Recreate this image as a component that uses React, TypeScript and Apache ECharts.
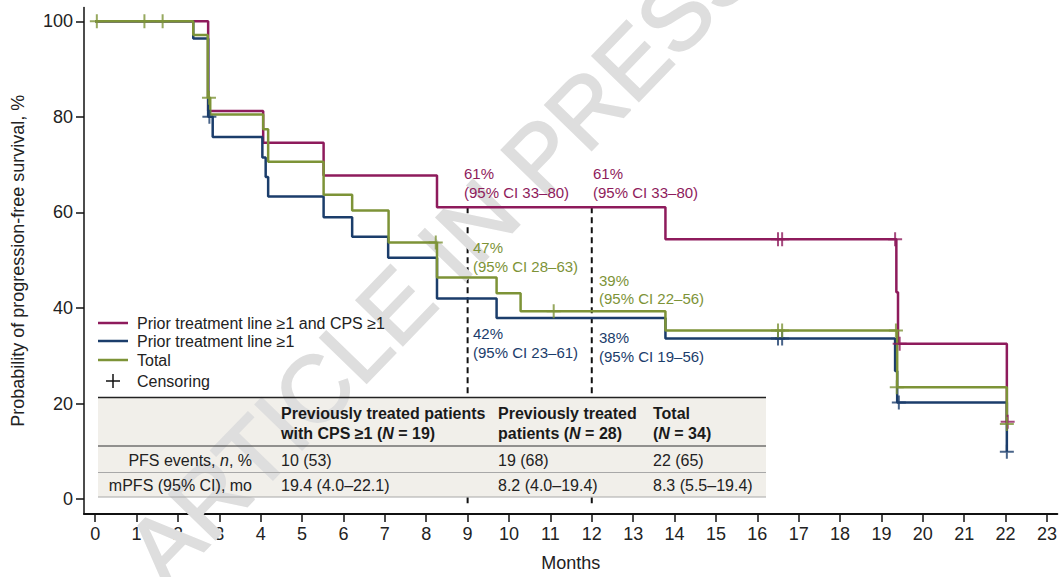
import React, { useEffect, useRef } from "react";
import * as echarts from "echarts";

// ---------- data ----------
const monthTicks = [0, 1, 2, 3, 4, 5, 6, 7, 8, 9, 10, 11, 12, 13, 14, 15, 16, 17, 18, 19, 20, 21, 22, 23];
const survivalTicks = [0, 20, 40, 60, 80, 100];

const seriesNames = ["Prior treatment line ≥1 and CPS ≥1", "Prior treatment line ≥1", "Total"];

// Kaplan–Meier steps: [month, survival % after event]
const cpsCurve: [number, number][] = [
  [0, 100], [2.73, 81.2], [4.06, 74.6], [5.52, 67.7], [8.26, 61.1], [13.78, 54.4],
  [19.36, 43.3], [19.4, 32.5], [22.03, 16.2],
];
const priorCurve: [number, number][] = [
  [0, 100], [2.37, 96.4], [2.73, 80.0], [2.84, 75.8], [4.04, 71.5], [4.12, 67.4], [4.18, 63.3],
  [5.52, 59.0], [6.21, 54.9], [7.08, 50.5], [8.26, 42.0], [9.7, 37.9], [13.78, 33.6],
  [19.33, 26.8], [19.38, 20.2], [22.03, 9.9],
];
const totalCurve: [number, number][] = [
  [0, 100], [2.37, 97.1], [2.72, 84.0], [2.78, 80.5], [4.06, 77.4], [4.18, 70.6], [5.52, 63.7],
  [6.21, 60.4], [7.09, 53.7], [8.26, 46.4], [9.7, 43.1], [10.28, 39.3], [13.78, 35.3],
  [19.38, 23.4], [22.03, 15.7],
];

// censoring marks
const cpsCensor: [number, number][] = [[16.5, 54.4], [16.6, 54.4], [19.33, 54.4], [19.44, 32.5], [22.05, 16.2]];
const priorCensor: [number, number][] = [[2.76, 80.0], [16.5, 33.6], [16.6, 33.6], [19.42, 20.2], [22.03, 9.9]];
const totalCensor: [number, number][] = [
  [0.04, 100], [1.19, 100], [1.63, 100], [2.75, 84.0], [8.23, 53.7], [11.08, 39.3],
  [16.5, 35.3], [16.6, 35.3], [19.35, 35.3], [19.37, 23.4], [22.03, 15.7],
];

// landmark lines
const landmarkMonths = [9, 12];
const landmarkTop = 61.1;

// annotations
const cpsLabels = ["61%", "(95% CI 33–80)", "61%", "(95% CI 33–80)"];
const totalLabels = ["47%", "(95% CI 28–63)", "39%", "(95% CI 22–56)"];
const priorLabels = ["42%", "(95% CI 23–61)", "38%", "(95% CI 19–56)"];

// table
const tableHeader1 = ["Previously treated patients", "Previously treated", "Total"];
const tableHeader2 = ["with CPS ≥1 ({i|N} = 19)", "patients ({i|N} = 28)", "({i|N} = 34)"];
const pfsEvents = ["10 (53)", "19 (68)", "22 (65)"];
const mpfs = ["19.4 (4.0–22.1)", "8.2 (4.0–19.4)", "8.3 (5.5–19.4)"];

// ---------- styles ----------
const MAGENTA = "#8E1B5C";
const NAVY = "#1B3D6B";
const GREEN = "#7D9337";
const FONT = "'Liberation Sans', Arial, Helvetica, sans-serif";
const PLUS = "path://M6,0H8V6H14V8H8V14H6V8H0V6H6Z";

export default function App() {
  const ref = useRef<HTMLDivElement>(null);

  useEffect(() => {
    if (!ref.current) return;
    const chart = echarts.init(ref.current, undefined, { renderer: "svg" });

    const stepSeries = (name: string, data: [number, number][], color: string) => ({
      name,
      type: "line",
      step: "end",
      data,
      symbol: "none",
      showSymbol: false,
      lineStyle: { color, width: 2.5 },
      itemStyle: { color },
      z: 5,
    });
    const censorSeries = (data: [number, number][], color: string) => ({
      type: "scatter",
      data,
      symbol: PLUS,
      symbolSize: 14,
      itemStyle: { color },
      z: 6,
    });
    const dashSeries = (m: number) => ({
      type: "line",
      data: [[m, landmarkTop], [m, -1]],
      symbol: "none",
      lineStyle: { color: "#111", width: 2, type: [6, 4] },
      z: 1,
    });

    const txt = (x: number, y: number, text: string, fill: string, size = 15, extra: any = {}) => ({
      type: "text",
      x,
      y,
      z: 7,
      style: {
        text,
        fill,
        fontSize: size,
        fontFamily: FONT,
        fontWeight: extra.bold ? "bold" : "normal",
        align: extra.align || "left",
        verticalAlign: "middle",
        rich: extra.rich,
      },
    });
    const ln = (x1: number, y1: number, x2: number, y2: number, stroke: string, w: number, z = 7) => ({
      type: "line",
      z,
      shape: { x1, y1, x2, y2 },
      style: { stroke, lineWidth: w },
    });

    const colX = [281, 498, 653];
    const richBold = { i: { fontStyle: "italic", fontWeight: "bold", fontSize: 16, fontFamily: FONT, fill: "#1a1a1a" } };
    const richNorm = { i: { fontStyle: "italic", fontWeight: "normal", fontSize: 16, fontFamily: FONT, fill: "#222" } };

    const graphics: any[] = [
      // watermark
      {
        type: "text",
        x: 442,
        y: 258,
        rotation: (46 * Math.PI) / 180,
        z: 4,
        silent: true,
        style: {
          text: "ARTICLE IN PRESS",
          fill: "#DEDEDE",
          stroke: "#DEDEDE",
          lineWidth: 2,
          fontSize: 94,
          fontFamily: FONT,
          fontWeight: "normal",
          align: "center",
          verticalAlign: "middle",
        },
      },
      // legend
      ln(98, 323, 128, 323, MAGENTA, 2.5),
      ln(98, 341, 128, 341, NAVY, 2.5),
      ln(98, 360, 128, 360, GREEN, 2.5),
      ln(106, 381, 120, 381, "#111", 1.5),
      ln(113, 374, 113, 388, "#111", 1.5),
      txt(137, 323, seriesNames[0], "#222", 16),
      txt(137, 341, seriesNames[1], "#222", 16),
      txt(137, 360, seriesNames[2], "#222", 16),
      txt(137, 381, "Censoring", "#222", 16),
      // annotations
      txt(464, 173, cpsLabels[0], MAGENTA),
      txt(464, 192, cpsLabels[1], MAGENTA),
      txt(593, 173, cpsLabels[2], MAGENTA),
      txt(593, 192, cpsLabels[3], MAGENTA),
      txt(473, 247, totalLabels[0], GREEN),
      txt(473, 266, totalLabels[1], GREEN),
      txt(599, 280, totalLabels[2], GREEN),
      txt(599, 298, totalLabels[3], GREEN),
      txt(473, 333, priorLabels[0], NAVY),
      txt(473, 352, priorLabels[1], NAVY),
      txt(599, 337, priorLabels[2], NAVY),
      txt(599, 356, priorLabels[3], NAVY),
      // table
      { type: "rect", z: 3, shape: { x: 98, y: 397, width: 668, height: 100 }, style: { fill: "#F1EFEA" } },
      ln(98, 397.5, 766, 397.5, "#222", 1.5),
      ln(98, 446, 766, 446, "#333", 1.2),
      ln(98, 472.5, 766, 472.5, "#A8A8A8", 1),
      ln(98, 497, 766, 497, "#A8A8A8", 1),
      txt(252, 460, "PFS events, {i|n}, %", "#222", 16, { align: "right", rich: richNorm }),
      txt(252, 485, "mPFS (95% CI), mo", "#222", 16, { align: "right" }),
    ];
    colX.forEach((x, i) => {
      graphics.push(txt(x, 413, tableHeader1[i], "#1a1a1a", 16, { bold: true }));
      graphics.push(txt(x, 433, tableHeader2[i], "#1a1a1a", 16, { bold: true, rich: richBold }));
      graphics.push(txt(x, 460, pfsEvents[i], "#222", 16));
      graphics.push(txt(x, 485, mpfs[i], "#222", 16));
    });

    chart.setOption({
      animation: false,
      backgroundColor: "#fff",
      textStyle: { fontFamily: FONT },
      grid: { left: 84, right: 0, top: 7.4, bottom: 60, containLabel: false },
      xAxis: {
        type: "value",
        min: -0.27,
        max: 23.25,
        name: "Months",
        nameLocation: "middle",
        nameGap: 40,
        nameTextStyle: { fontSize: 18, color: "#222", fontFamily: FONT },
        axisLine: { show: true, onZero: false, lineStyle: { color: "#111", width: 2 } },
        axisTick: { show: true, customValues: monthTicks, length: 8, lineStyle: { color: "#111", width: 1.5 } },
        axisLabel: { customValues: monthTicks, fontSize: 18, color: "#222", margin: 11, fontFamily: FONT },
        splitLine: { show: false },
      },
      yAxis: {
        type: "value",
        min: -3.12,
        max: 102.9,
        name: "Probability of progression-free survival, %",
        nameLocation: "middle",
        nameGap: 57,
        nameTextStyle: { fontSize: 18, color: "#222", fontFamily: FONT },
        axisLine: { show: true, onZero: false, lineStyle: { color: "#111", width: 1.5 } },
        axisTick: { show: true, customValues: survivalTicks, length: 8, lineStyle: { color: "#111", width: 1.5 } },
        axisLabel: { customValues: survivalTicks, fontSize: 18, color: "#222", margin: 11, fontFamily: FONT },
        splitLine: { show: false },
      },
      series: [
        ...landmarkMonths.map(dashSeries),
        stepSeries(seriesNames[0], cpsCurve, MAGENTA),
        stepSeries(seriesNames[1], priorCurve, NAVY),
        stepSeries(seriesNames[2], totalCurve, GREEN),
        censorSeries(cpsCensor, MAGENTA),
        censorSeries(priorCensor, NAVY),
        censorSeries(totalCensor, GREEN),
      ],
      graphic: graphics,
    });

    return () => chart.dispose();
  }, []);

  return (
    <div
      ref={ref}
      style={{ position: "absolute", left: 0, top: 0, width: 1060, height: 577, background: "#fff" }}
    />
  );
}
